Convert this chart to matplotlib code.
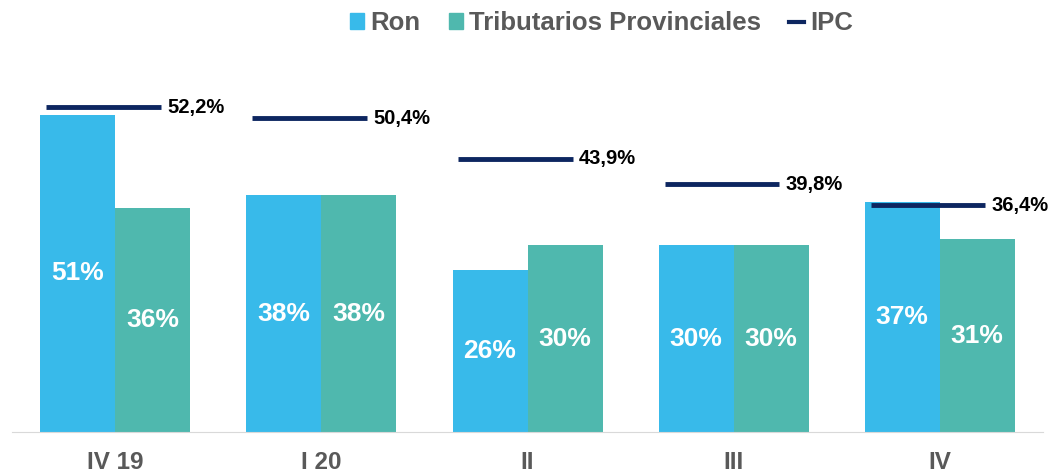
import numpy as np
import matplotlib.pyplot as plt
from matplotlib.lines import Line2D
from matplotlib.patches import Patch

plt.rcParams['font.family'] = ['Liberation Sans', 'DejaVu Sans']

quarters = ["IV 19", "I 20", "II", "III", "IV"]
ron = [51, 38, 26, 30, 37]
tributarios = [36, 38, 30, 30, 31]
ipc = [52.2, 50.4, 43.9, 39.8, 36.4]
ipc_labels = ["52,2%", "50,4%", "43,9%", "39,8%", "36,4%"]

C_RON = "#38BAEA"
C_TRIB = "#4FB8AE"
C_IPC = "#0D2660"
C_TXT = "#595959"

fig = plt.figure(figsize=(10.53, 4.73), dpi=100)
ax = fig.add_axes([0, 1 - 432 / 473, 1, 432 / 473])

x = np.arange(len(quarters))
w = 0.364
ax.bar(x - w / 2, ron, w, color=C_RON)
ax.bar(x + w / 2, tributarios, w, color=C_TRIB)

for xi, r, t in zip(x, ron, tributarios):
    ax.text(xi - w / 2, r / 2, f"{r}%", ha="center", va="center",
            color="white", fontsize=19, fontweight="bold")
    ax.text(xi + w / 2, t / 2, f"{t}%", ha="center", va="center",
            color="white", fontsize=19, fontweight="bold")

for xi, v, lab in zip(x, ipc, ipc_labels):
    ax.plot([xi - 0.335, xi + 0.22], [v, v], color=C_IPC, lw=3.5,
            solid_capstyle="butt")
    ax.text(xi + 0.25, v, lab, ha="left", va="center", color="black",
            fontsize=14.5, fontweight="bold")

ax.set_xlim(-0.56, 4.55)
ax.set_ylim(0, 69.4)
for s in ["top", "right", "left"]:
    ax.spines[s].set_visible(False)
ax.spines["bottom"].set_color("#d9d9d9")
ax.spines["bottom"].set_bounds(-0.5, 4.5)
ax.set_yticks([])
ax.set_xticks(x)
ax.set_xticklabels(quarters, fontsize=17.5, fontweight="bold", color=C_TXT)
ax.tick_params(axis="x", length=0, pad=14)

handles = [Patch(color=C_RON), Patch(color=C_TRIB),
           Line2D([0], [0], color=C_IPC, lw=3)]
leg = fig.legend(handles, ["Ron", "Tributarios Provinciales", "IPC"],
                 loc="upper center", bbox_to_anchor=(0.571, 1.025), ncol=3,
                 frameon=False, handlelength=0.55, handleheight=0.55,
                 columnspacing=1.1, handletextpad=0.25,
                 prop={"size": 18.5, "weight": "bold"})
for t in leg.get_texts():
    t.set_color(C_TXT)
leg.legend_handles[2].set_linewidth(3)

fig.savefig("out.png", dpi=100)
